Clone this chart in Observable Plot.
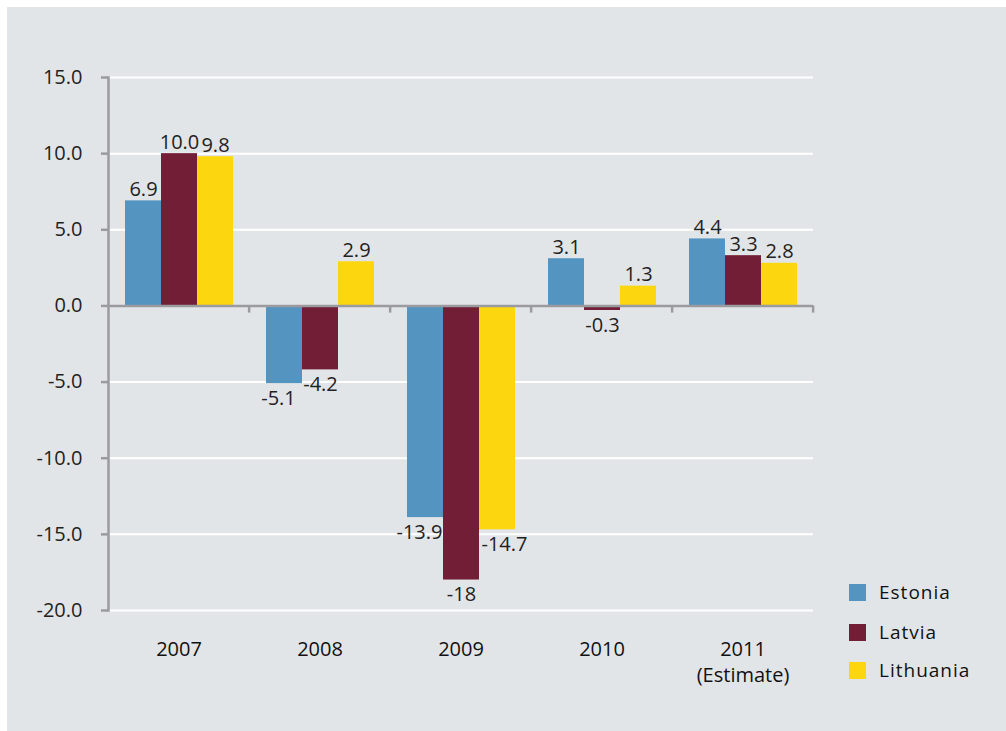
<!DOCTYPE html>
<html>
<head>
<meta charset="utf-8">
<script src="https://cdn.jsdelivr.net/npm/d3@7"></script>
<script src="https://cdn.jsdelivr.net/npm/@observablehq/plot@0.6"></script>
<style>
  html, body { margin: 0; padding: 0; background: #ffffff; }
  #wrap { position: relative; width: 1006px; height: 731px; overflow: hidden; font-family: "Open Sans", sans-serif; }
  #panel { position: absolute; left: 7px; top: 7px; right: 0; bottom: 0; background: #e2e5e8; }
  #chart { position: absolute; left: 0; top: 0; }
  #legend { position: absolute; left: 849px; top: 584px; }
  .item { position: absolute; left: 0; height: 17px; white-space: nowrap; }
  .sw { position: absolute; left: 0; top: 0; width: 17px; height: 17px; }
  .lb { position: absolute; left: 30px; top: -6px; font-size: 19px; line-height: 28px; letter-spacing: 1px; color: #111; }
</style>
</head>
<body>
<div id="wrap">
  <div id="panel"></div>
  <div id="chart"></div>
  <div id="legend"></div>
</div>
<script>
const years = ["2007", "2008", "2009", "2010", "2011"];
const yearLabels = ["2007", "2008", "2009", "2010", "2011\n(Estimate)"];
const countries = ["Estonia", "Latvia", "Lithuania"];
const colors = ["#5394c0", "#721e37", "#fcd70f"];
const estonia = [6.9, -5.1, -13.9, 3.1, 4.4];
const latvia = [10.0, -4.2, -18, -0.3, 3.3];
const lithuania = [9.8, 2.9, -14.7, 1.3, 2.8];
const valueLabels = [
  ["6.9", "-5.1", "-13.9", "3.1", "4.4"],
  ["10.0", "-4.2", "-18", "-0.3", "3.3"],
  ["9.8", "2.9", "-14.7", "1.3", "2.8"]
];
const yTicks = [-20, -15, -10, -5, 0, 5, 10, 15];

const series = [estonia, latvia, lithuania];
const data = [];
years.forEach((yr, i) => {
  countries.forEach((c, j) => {
    data.push({year: yr, country: c, value: series[j][i], label: valueLabels[j][i]});
  });
});

const W = 1006, H = 731, ML = 107, MR = 193, MT = 77, MB = 121;
const paddingOuter = 0.41;
const step = (W - ML - MR) / years.length;
const innerStep = step / (countries.length + 2 * paddingOuter);
const edgeDx = innerStep * (0.5 + paddingOuter);
const font = "'Open Sans', sans-serif";
const negShift = {Estonia: -6, Latvia: 0, Lithuania: 7};

const chart = Plot.plot({
  width: W, height: H,
  marginLeft: ML, marginRight: MR, marginTop: MT, marginBottom: MB,
  style: {background: "transparent", fontFamily: font, fontSize: "19px", color: "#222"},
  fx: {domain: years, paddingInner: 0, paddingOuter: 0, label: null, axis: null},
  x: {domain: countries, paddingInner: 0, paddingOuter: paddingOuter, axis: null},
  y: {domain: [-20, 15], label: null},
  color: {domain: countries, range: colors},
  marks: [
    Plot.gridY(yTicks.filter(d => d !== 0), {stroke: "#ffffff", strokeOpacity: 1, strokeWidth: 2}),
    Plot.barY(data, {fx: "year", x: "country", y: "value", fill: "country"}),
    Plot.ruleY([0], {stroke: "#9a9b9e", strokeWidth: 2.5}),
    Plot.ruleX(["Lithuania"], {x: d => d, y1: 0, y2: -0.47, dx: edgeDx, stroke: "#9a9b9e", strokeWidth: 2.5}),
    Plot.frame({anchor: "left", stroke: "#9a9b9e", strokeWidth: 2.5, facetAnchor: "left"}),
    Plot.axisY({ticks: yTicks, tickFormat: d => d.toFixed(1), tickSize: 7, tickPadding: 19,
      stroke: "#9a9b9e", strokeWidth: 2.5, fill: "#222", fontSize: 20, label: null}),
    Plot.axisFx({anchor: "bottom", tickSize: 0, tickPadding: 27, tickFormat: (d) => yearLabels[years.indexOf(d)],
      fill: "#111", fontSize: 20, lineHeight: 1.3, label: null}),
    Plot.text(data.filter(d => d.value >= 0), {fx: "year", x: "country", y: "value", text: "label",
      lineAnchor: "bottom", dy: -5, fill: "#222", fontSize: 20}),
    ...countries.map(c => Plot.text(data.filter(d => d.value < 0 && d.country === c), {
      fx: "year", x: "country", y: "value", text: "label",
      lineAnchor: "top", dy: 7, dx: negShift[c], fill: "#222", fontSize: 20}))
  ]
});
document.getElementById("chart").appendChild(chart);

const legend = document.getElementById("legend");
const legendTops = [0, 40, 78];
countries.forEach((c, i) => {
  const item = document.createElement("div");
  item.className = "item";
  item.style.top = legendTops[i] + "px";
  item.innerHTML = `<div class="sw" style="background:${colors[i]}"></div><div class="lb">${c}</div>`;
  legend.appendChild(item);
});
</script>
</body>
</html>
